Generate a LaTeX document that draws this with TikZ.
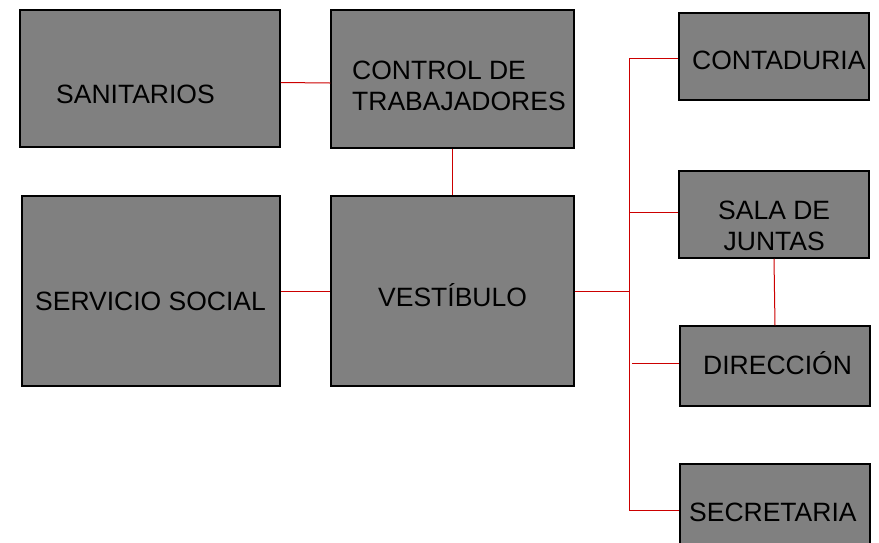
\documentclass[tikz,border=0pt]{standalone}
\usepackage{fontspec}
\setmainfont{Liberation Sans}
\definecolor{boxgray}{HTML}{808080}
\definecolor{linkred}{HTML}{CC0000}
\begin{document}
\begin{tikzpicture}[x=1pt,y=-1pt,
  room/.style={draw=black,line width=1.5pt,fill=boxgray,rectangle,inner sep=0pt},
  label/.style={inner sep=0pt,anchor=base west,font=\fontsize{26.5}{31}\selectfont,text=black},
  link/.style={draw=linkred,line width=1pt}]
\useasboundingbox (0,0) rectangle (879,542);
% boxes
\node[room,minimum width=260pt,minimum height=137pt] (san) at (150,78.5) {};
\node[room,minimum width=243pt,minimum height=138pt] (ctrl) at (452.5,79) {};
\node[room,minimum width=258pt,minimum height=190pt] (serv) at (151,291) {};
\node[room,minimum width=243pt,minimum height=190pt] (vest) at (452.5,291) {};
\node[room,minimum width=190pt,minimum height=87pt] (cont) at (774,56.5) {};
\node[room,minimum width=190pt,minimum height=87pt] (sala) at (774,214.5) {};
\node[room,minimum width=190pt,minimum height=80pt] (dir) at (775,366) {};
\node[room,minimum width=190pt,minimum height=96pt] (sec) at (775,512) {};
% texts
\node[label] (tsan) at (56,103) {SANITARIOS};
\node[label,align=left] (tctrl) at (352,110) {CONTROL DE\\TRABAJADORES};
\node[label] (tserv) at (35,310) {SERVICIO SOCIAL};
\node[label] (tvest) at (378,306) {VESTÍBULO};
\node[label] (tcont) at (692,69) {CONTADURIA};
\node[label,align=center] (tsala) at (718,250) {SALA DE\\JUNTAS};
\node[label] (tdir) at (703,374) {DIRECCIÓN};
\node[label] (tsec) at (689,521) {SECRETARIA};
% connectors
\coordinate (bt) at (629,58);
\coordinate (bb) at (629,510);
\draw[link] ([yshift=-4pt]san.east) -- ([yshift=-4pt]ctrl.west);
\draw[link] (ctrl.south) -- (vest.north);
\draw[link] (serv.east) -- (vest.west);
\draw[link] (vest.east) -- (vest.east -| bt);
\draw[link] (bt) -- (bb);
\draw[link] (bt) -- (bt -| cont.west);
\draw[link] ([yshift=2pt]sala.west -| bt) -- ([yshift=2pt]sala.west);
\draw[link] ([xshift=3pt,yshift=3pt]dir.west -| bt) -- ([yshift=3pt]dir.west);
\draw[link] (bb) -- (bb -| sec.west);
\draw[link] (sala.south) -- (dir.north);
\end{tikzpicture}
\end{document}
